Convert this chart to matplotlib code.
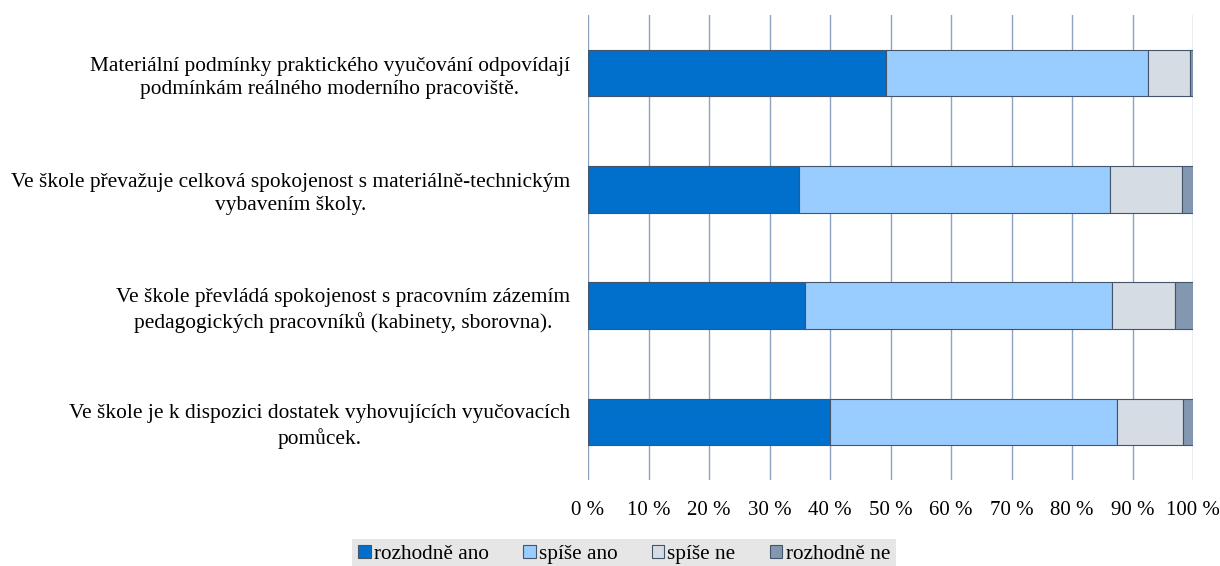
import matplotlib.pyplot as plt
import numpy as np

plt.rcParams['font.family'] = ['Liberation Serif', 'DejaVu Serif']

# statements (top to bottom)
categories = [
    'Materiální podmínky praktického vyučování odpovídají\npodmínkám reálného moderního pracoviště.',
    'Ve škole převažuje celková spokojenost s materiálně-technickým\nvybavením školy.',
    'Ve škole převládá spokojenost s pracovním zázemím\npedagogických pracovníků (kabinety, sborovna).',
    'Ve škole je k dispozici dostatek vyhovujících vyučovacích\npomůcek.',
]

series_names = ['rozhodně ano', 'spíše ano', 'spíše ne', 'rozhodně ne']
rozhodne_ano = [49.3, 34.8, 35.9, 40.0]
spise_ano = [43.2, 51.4, 50.7, 47.4]
spise_ne = [7.0, 12.0, 10.5, 10.9]
rozhodne_ne = [0.5, 1.8, 2.9, 1.7]

colors = ['#0070CC', '#99CCFF', '#D6DCE4', '#8497B0']
edge = '#44546A'

fig = plt.figure(figsize=(12.2, 5.66), dpi=100)
ax = fig.add_axes([588 / 1220, 1 - 480 / 566, 605 / 1220, 465 / 566])

y = np.arange(len(categories))
left = np.zeros(len(categories))
for name, vals, col in zip(series_names,
                           [rozhodne_ano, spise_ano, spise_ne, rozhodne_ne],
                           colors):
    ax.barh(y, vals, left=left, height=0.40, color=col, edgecolor=edge,
            linewidth=0.8, label=name, zorder=3)
    left += np.array(vals)

ax.set_xlim(0, 100)
ax.set_ylim(len(categories) - 0.5, -0.5)
ax.set_xticks(np.arange(0, 101, 10))
ax.set_xticklabels([f'{v} %' for v in range(0, 101, 10)], fontsize=15)
ax.set_yticks(y)
ax.set_yticklabels(categories, fontsize=15.4, multialignment='center',
                   linespacing=1.3)
ax.tick_params(axis='both', length=0)
ax.tick_params(axis='x', pad=15)
ax.tick_params(axis='y', pad=13)

ax.grid(axis='x', color='#8EA3C2', linewidth=1.0, zorder=0)
for s in ax.spines.values():
    s.set_visible(False)

leg = fig.legend(loc='lower center', bbox_to_anchor=(624 / 1220, -0.008), ncol=4,
                 fontsize=15.3, frameon=True, fancybox=False,
                 handlelength=0.6, handleheight=0.6, handletextpad=0.15,
                 columnspacing=1.6, borderpad=0.3, borderaxespad=0)
leg.get_frame().set_facecolor('#E6E6E6')
leg.get_frame().set_edgecolor('none')
leg.get_frame().set_alpha(1)

fig.savefig('out.png', dpi=100)
